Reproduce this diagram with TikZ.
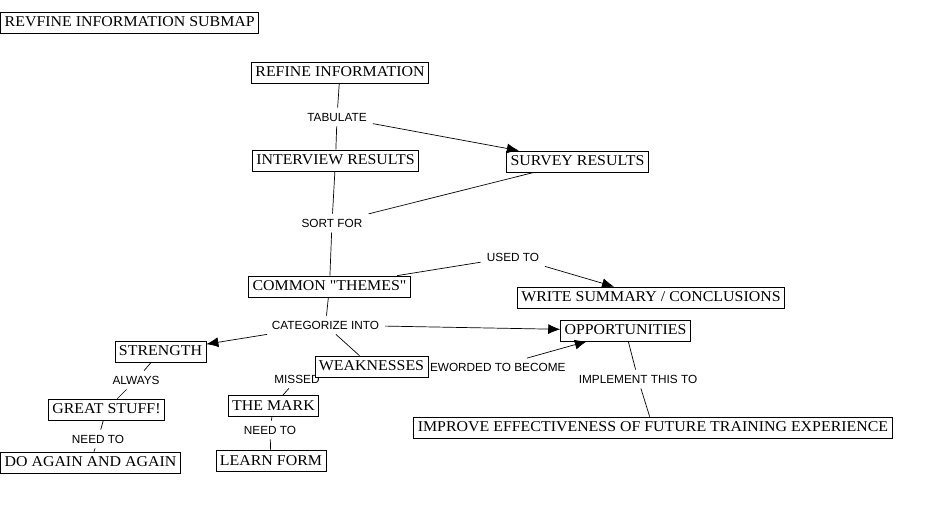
\documentclass[tikz,border=0pt]{standalone}
\usepackage{fontspec}
\setmainfont{Liberation Serif}[FakeStretch=1.06,Ligatures=TeXOff]
\setsansfont{Liberation Sans}
\usetikzlibrary{arrows.meta}
\tikzset{
  concept/.style={draw,fill=white,line width=0.7pt,inner xsep=4pt,inner ysep=4pt,
    text height=10.5pt,text depth=2.5pt,font=\fontsize{15}{17}\selectfont},
  linkword/.style={inner xsep=6pt,inner ysep=5pt,font=\sffamily\fontsize{11.8}{13}\selectfont},
  tie/.style={line width=0.7pt},
  leads/.style={tie,-{Latex[length=12pt,width=10pt]}}
}

\begin{document}
\begin{tikzpicture}[x=1pt,y=-1pt]
\useasboundingbox (0,0) rectangle (935,514);
\node[linkword] (tabulate) at (337,117) {TABULATE};
\node[linkword] (sortfor) at (332,223) {SORT FOR};
\node[linkword] (usedto) at (513,257) {USED TO};
\node[linkword] (categorize) at (325.5,325) {CATEGORIZE INTO};
\node[linkword] (reworded) at (493.5,367.5) {REWORDED TO BECOME};
\node[linkword] (implement) at (638,379) {IMPLEMENT THIS TO};
\node[linkword] (always) at (136,380) {ALWAYS};
\node[linkword] (needtoa) at (98,439) {NEED TO};
\node[linkword] (missed) at (297,379) {MISSED};
\node[linkword] (needtob) at (270,430) {NEED TO};
\node[concept,anchor=west] (title) at (0.4,22.5) {REVFINE INFORMATION SUBMAP};
\node[concept] (refine) at (340,72.5) {REFINE INFORMATION};
\node[concept] (interview) at (335.5,160.5) {INTERVIEW RESULTS};
\node[concept] (survey) at (577.5,161.5) {SURVEY RESULTS};
\node[concept] (themes) at (329.5,286.5) {COMMON "THEMES"};
\node[concept] (summary) at (651,297.5) {WRITE SUMMARY / CONCLUSIONS};
\node[concept] (chances) at (625.5,330.5) {OPPORTUNITIES};
\node[concept] (strength) at (160.5,351.5) {STRENGTH};
\node[concept] (weakness) at (371.5,366.5) {WEAKNESSES};
\node[concept] (improve) at (653,427.5) {IMPROVE EFFECTIVENESS OF FUTURE TRAINING EXPERIENCE};
\node[concept] (great) at (106.5,409.5) {GREAT STUFF!};
\node[concept] (again) at (90.5,462.5) {DO AGAIN AND AGAIN};
\node[concept] (mark) at (273.5,406) {THE MARK};
\node[concept] (learn) at (271,461) {LEARN FORM};
\draw[tie] (refine) -- (tabulate);
\draw[tie] (tabulate) -- (interview);
\draw[leads] (tabulate) -- (survey);
\draw[tie] (interview) -- (sortfor);
\draw[tie] (survey) -- (sortfor);
\draw[tie] (sortfor) -- (themes);
\draw[tie] (themes) -- (usedto);
\draw[leads] (usedto) -- (summary);
\draw[tie] (themes) -- (categorize);
\draw[leads] (categorize) -- (strength);
\draw[leads] (categorize) -- (chances);
\draw[tie] (categorize) -- (weakness);
\draw[leads] (reworded) -- (chances);
\draw[tie] (chances) -- (implement);
\draw[tie] (implement) -- (improve);
\draw[tie] (strength) -- (always);
\draw[tie] (always) -- (great);
\draw[tie] (great) -- (needtoa);
\draw[tie] (needtoa) -- (again);
\draw[tie] (missed) -- (mark);
\draw[tie] (mark) -- (needtob);
\draw[tie] (needtob) -- (learn);
\end{tikzpicture}
\end{document}
